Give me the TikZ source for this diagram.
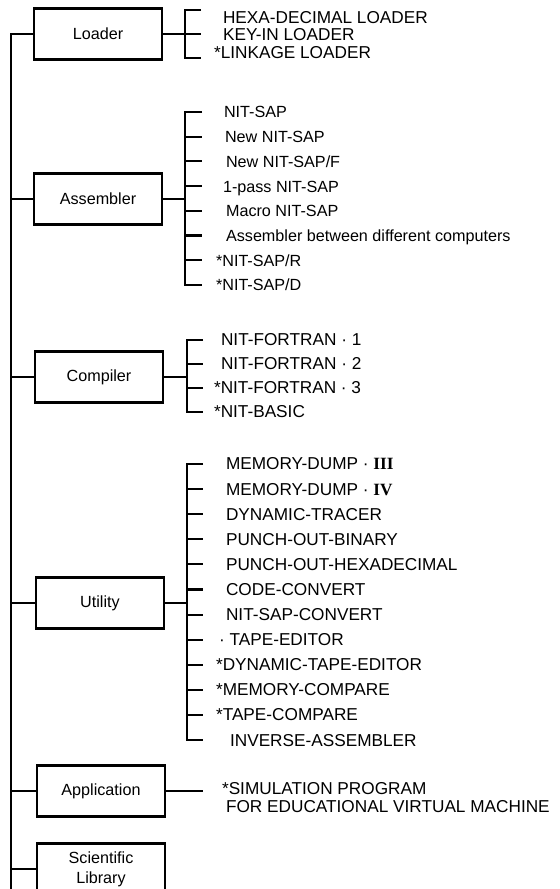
\documentclass[tikz,border=0pt]{standalone}
\usepackage{fontspec}
\setmainfont{Liberation Sans}
\newfontfamily\romfont{Liberation Serif}
\begin{document}
\begin{tikzpicture}[x=0.02cm,y=-0.02cm,line width=1.2pt,line join=miter,
    unit/.style={draw,minimum width=2.56cm,minimum height=1.02cm,align=center,font=\fontsize{9.2}{11}\selectfont},
    item/.style={anchor=west,inner sep=0pt,text height=6.8pt,text depth=0pt,font=\fontsize{9.8}{11}\selectfont},
    lcitem/.style={item,font=\fontsize{9.2}{11}\selectfont}]
\useasboundingbox (0,0) rectangle (559,889);

% the six groups
\node[unit] (loader) at (98,34) {Loader};
\node[unit] (assembler) at (98,199) {Assembler};
\node[unit] (compiler) at (99,377) {Compiler};
\node[unit] (utility) at (100,603) {Utility};
\node[unit] (application) at (101,791) {Application};
\node[unit,font=\fontsize{9.2}{11.2}\selectfont] (scilib) at (101,869) {Scientific\\Library};

% trunk
\coordinate (trunk) at (11,900);
\draw[line width=1.5pt] (loader.west) -- (loader.west -| trunk) -- (trunk);
\foreach \n in {assembler,compiler,utility,application,scilib}
  \draw (\n.west) -- (\n.west -| trunk);

% loader
\coordinate (ldjoin) at (185,34);
\coordinate (ld-t1) at (201,10);
\coordinate (ld-t2) at (201,34);
\coordinate (ld-t3) at (201,58);
\draw (loader.east) -- (ld-t2);
\draw (ld-t1) -- (ld-t1 -| ldjoin) -- (ld-t3 -| ldjoin) -- (ld-t3);
\node[item] (ld1) at (222,18) {HEXA-DECIMAL LOADER};
\node[item] (ld2) at (222,35) {KEY-IN LOADER};
\node[item] (ld3) at (213,53) {*LINKAGE LOADER};

% assembler
\coordinate (asjoin) at (185,199);
\foreach \txt/\xp [count=\i] in {NIT-SAP/223,New NIT-SAP/224,{New NIT-SAP/F}/225,
    1-pass NIT-SAP/222,Macro NIT-SAP/225,Assembler between different computers/225,
    {*NIT-SAP/R}/215,{*NIT-SAP/D}/215}{
  \pgfmathsetmacro\yy{112+24.7*(\i-1)}
  \coordinate (as-t\i) at (202,\yy);
  \node[lcitem] (as\i) at (\xp,\yy) {\txt};
}
\draw (assembler.east) -- (asjoin);
\draw (as-t1) -- (as-t1 -| asjoin) -- (as-t8 -| asjoin) -- (as-t8);
\foreach \i in {2,...,7}
  \draw (as-t\i -| asjoin) -- (as-t\i);

% compiler
\coordinate (cpjoin) at (187,377);
\foreach \txt/\xp [count=\i] in {NIT-FORTRAN · 1/220,NIT-FORTRAN · 2/220,
    *NIT-FORTRAN · 3/213,*NIT-BASIC/213}{
  \pgfmathsetmacro\yy{340+24*(\i-1)}
  \coordinate (cp-t\i) at (203,\yy);
  \node[item] (cp\i) at (\xp,\yy) {\txt};
}
\draw (compiler.east) -- (cpjoin);
\draw (cp-t1) -- (cp-t1 -| cpjoin) -- (cp-t4 -| cpjoin) -- (cp-t4);
\foreach \i in {2,3}
  \draw (cp-t\i -| cpjoin) -- (cp-t\i);

% utility
\coordinate (utjoin) at (187,603);
\foreach \txt/\xp [count=\i] in {MEMORY-DUMP · {\romfont\bfseries III}/225,
    MEMORY-DUMP · {\romfont\bfseries IV}/225,DYNAMIC-TRACER/225,PUNCH-OUT-BINARY/225,
    PUNCH-OUT-HEXADECIMAL/225,CODE-CONVERT/225,NIT-SAP-CONVERT/225,· TAPE-EDITOR/218,
    *DYNAMIC-TAPE-EDITOR/215,*MEMORY-COMPARE/215,*TAPE-COMPARE/215,INVERSE-ASSEMBLER/229}{
  \pgfmathsetmacro\yy{464+25.1*(\i-1)}
  \coordinate (ut-t\i) at (203,\yy);
  \node[item] (ut\i) at (\xp,\yy) {\txt};
}
\draw (utility.east) -- (utjoin);
\draw (ut-t1) -- (ut-t1 -| utjoin) -- (ut-t12 -| utjoin) -- (ut-t12);
\foreach \i in {2,...,11}
  \draw (ut-t\i -| utjoin) -- (ut-t\i);

% application
\coordinate (ap-t) at (203,791);
\draw (application.east) -- (ap-t);
\node[item] (ap1) at (221,789) {*SIMULATION PROGRAM};
\node[item] (ap2) at (225,807) {FOR EDUCATIONAL VIRTUAL MACHINE};
\end{tikzpicture}
\end{document}
